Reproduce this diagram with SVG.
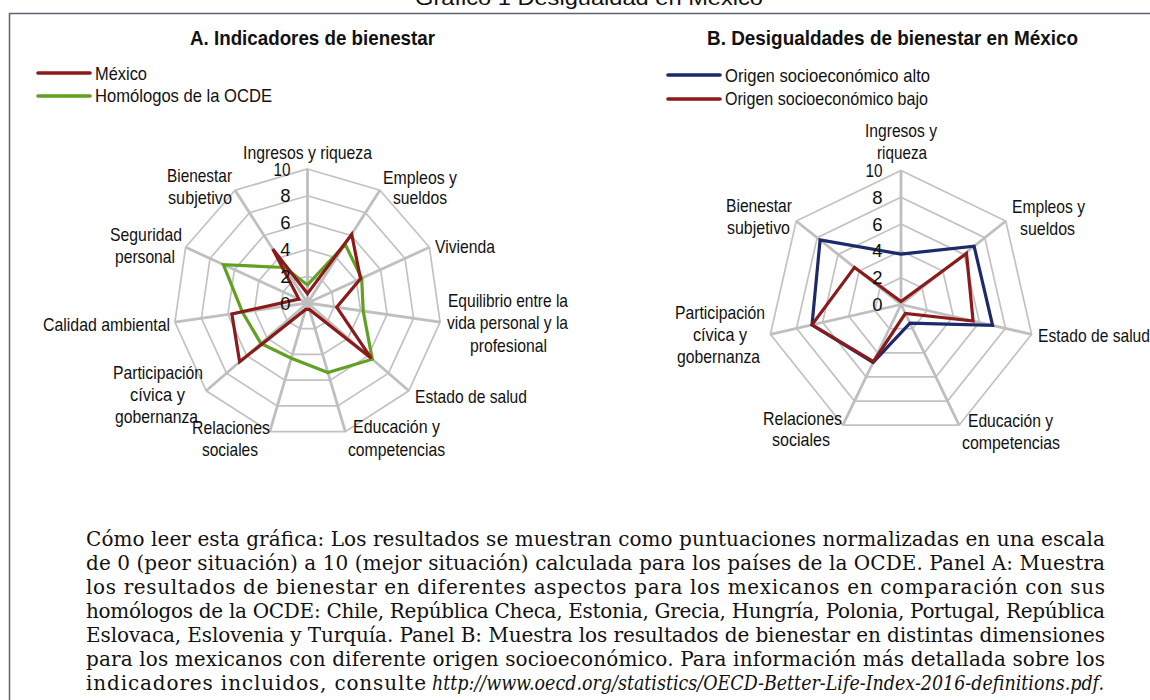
<svg xmlns="http://www.w3.org/2000/svg" width="1150" height="700" viewBox="0 0 1150 700">
<style>
.t{font-family:"Liberation Sans",Arial,sans-serif;font-size:18.5px;fill:#111}
.m{text-anchor:middle}
.e{text-anchor:end}
.h{font-family:"Liberation Sans",Arial,sans-serif;font-size:21px;font-weight:bold;fill:#111;text-anchor:middle}
.p{font-family:"DejaVu Serif","Liberation Serif",serif;font-size:20px;fill:#111}
.ring{fill:none;stroke:#c2c2c2;stroke-width:1.7}
.spoke{fill:none;stroke:#bfbfbf;stroke-width:2.8}
.ser{fill:none;stroke-width:3.2;stroke-linejoin:miter}
.red{stroke:#8b1a1a}
.grn{stroke:#62a024}
.blu{stroke:#1c2a6a}
.leg{stroke-width:3.6;stroke-linecap:round}
</style>
<rect width="1150" height="700" fill="#ffffff"/>
<text x="589" y="5" class="t m" style="font-size:20px" textLength="348" lengthAdjust="spacingAndGlyphs">Gráfico 1 Desigualdad en México</text>
<rect x="9.5" y="13.5" width="1200" height="720" fill="none" stroke="#5c6270" stroke-width="1.5"/>

<g id="panelA">
  <text x="312.5" y="45" class="h" textLength="245" lengthAdjust="spacingAndGlyphs">A. Indicadores de bienestar</text>
  <g id="legendA">
    <line x1="38" y1="73" x2="90" y2="73" class="leg red"/>
    <text x="95" y="80" class="t" textLength="52" lengthAdjust="spacingAndGlyphs">México</text>
    <line x1="38" y1="96" x2="90" y2="96" class="leg grn"/>
    <text x="95" y="101.5" class="t" textLength="177" lengthAdjust="spacingAndGlyphs">Homólogos de la OCDE</text>
  </g>
  <g id="gridA">
    <polygon class="ring" points="307.5,276.2 322.0,280.5 331.9,291.9 334.0,306.8 327.8,320.6 315.1,328.7 300.0,328.7 287.3,320.6 281.0,306.8 283.1,291.9 293.0,280.5"/>
    <polygon class="ring" points="307.5,249.4 336.5,257.9 356.3,280.7 360.6,310.6 348.0,338.1 322.6,354.4 292.4,354.4 267.0,338.1 254.5,310.6 258.8,280.7 278.5,257.9"/>
    <polygon class="ring" points="307.5,222.6 351.0,235.4 380.6,269.6 387.1,314.4 368.3,355.7 330.2,380.1 284.9,380.1 246.7,355.7 227.9,314.4 234.4,269.6 264.0,235.4"/>
    <polygon class="ring" points="307.5,195.8 365.5,212.8 405.0,258.5 413.6,318.3 388.5,373.2 337.7,405.9 277.3,405.9 226.5,373.2 201.4,318.3 210.0,258.5 249.5,212.8"/>
    <polygon class="ring" points="307.5,169.0 379.9,190.3 429.4,247.3 440.1,322.1 408.8,390.8 345.3,431.6 269.8,431.6 206.2,390.8 174.9,322.1 185.6,247.3 235.1,190.3"/>
    <path class="spoke" d="M307.5,303L307.5,169.0M307.5,303L379.9,190.3M307.5,303L429.4,247.3M307.5,303L440.1,322.1M307.5,303L408.8,390.8M307.5,303L345.3,431.6M307.5,303L269.8,431.6M307.5,303L206.2,390.8M307.5,303L174.9,322.1M307.5,303L185.6,247.3M307.5,303L235.1,190.3"/>
  </g>
  <g id="seriesA">
    <polygon class="ser grn" points="307.5,284.9 345.2,244.4 361.7,278.2 363.2,311.0 372.3,359.2 327.9,372.5 291.3,358.3 260.9,343.4 242.5,312.3 223.4,264.6 284.7,267.5"/>
    <polygon class="ser red" points="307.5,293.6 351.7,234.3 360.5,278.8 336.7,307.2 371.3,358.3 309.4,309.4 305.6,309.4 239.6,361.8 231.9,313.9 298.9,299.1 272.7,248.9"/>
  </g>
  <g id="scaleA">
    <text x="290.5" y="175.5" class="t e" textLength="17" lengthAdjust="spacingAndGlyphs">10</text>
    <text x="290.5" y="202.3" class="t e">8</text>
    <text x="290.5" y="229.1" class="t e">6</text>
    <text x="290.5" y="255.9" class="t e">4</text>
    <text x="290.5" y="282.7" class="t e">2</text>
    <text x="290.5" y="309.5" class="t e">0</text>
  </g>
  <g id="labelsA">
    <text x="307.5" y="159" class="t m" textLength="129" lengthAdjust="spacingAndGlyphs">Ingresos y riqueza</text>
    <text x="420" y="183.5" class="t m" textLength="74" lengthAdjust="spacingAndGlyphs">Empleos y</text>
    <text x="420" y="204" class="t m" textLength="54" lengthAdjust="spacingAndGlyphs">sueldos</text>
    <text x="465" y="253" class="t m" textLength="60" lengthAdjust="spacingAndGlyphs">Vivienda</text>
    <text x="508" y="307" class="t m" textLength="120" lengthAdjust="spacingAndGlyphs">Equilibrio entre la</text>
    <text x="507.5" y="329" class="t m" textLength="121" lengthAdjust="spacingAndGlyphs">vida personal y la</text>
    <text x="508.5" y="351.5" class="t m" textLength="77" lengthAdjust="spacingAndGlyphs">profesional</text>
    <text x="415" y="402.5" class="t" textLength="112" lengthAdjust="spacingAndGlyphs">Estado de salud</text>
    <text x="396.5" y="432.5" class="t m" textLength="87" lengthAdjust="spacingAndGlyphs">Educación y</text>
    <text x="396.5" y="455.5" class="t m" textLength="97" lengthAdjust="spacingAndGlyphs">competencias</text>
    <text x="231" y="433.5" class="t m" textLength="78" lengthAdjust="spacingAndGlyphs">Relaciones</text>
    <text x="230" y="455.5" class="t m" textLength="56" lengthAdjust="spacingAndGlyphs">sociales</text>
    <text x="158" y="378.5" class="t m" textLength="90" lengthAdjust="spacingAndGlyphs">Participación</text>
    <text x="157.5" y="400.5" class="t m" textLength="55" lengthAdjust="spacingAndGlyphs">cívica y</text>
    <text x="156.5" y="422.5" class="t m" textLength="83" lengthAdjust="spacingAndGlyphs">gobernanza</text>
    <text x="170" y="330.5" class="t e" textLength="127" lengthAdjust="spacingAndGlyphs">Calidad ambiental</text>
    <text x="146" y="241" class="t m" textLength="72" lengthAdjust="spacingAndGlyphs">Seguridad</text>
    <text x="145" y="263" class="t m" textLength="60" lengthAdjust="spacingAndGlyphs">personal</text>
    <text x="199.5" y="182" class="t m" textLength="65" lengthAdjust="spacingAndGlyphs">Bienestar</text>
    <text x="200" y="204" class="t m" textLength="64" lengthAdjust="spacingAndGlyphs">subjetivo</text>
  </g>
</g>

<g id="panelB">
  <text x="892.5" y="45" class="h" textLength="371" lengthAdjust="spacingAndGlyphs">B. Desigualdades de bienestar en México</text>
  <g id="legendB">
    <line x1="668" y1="75" x2="720" y2="75" class="leg blu"/>
    <text x="725" y="81.5" class="t" textLength="205" lengthAdjust="spacingAndGlyphs">Origen socioeconómico alto</text>
    <line x1="668" y1="99" x2="720" y2="99" class="leg red"/>
    <text x="725" y="105" class="t" textLength="203" lengthAdjust="spacingAndGlyphs">Origen socioeconómico bajo</text>
  </g>
  <g id="gridB">
    <polygon class="ring" points="901,277.7 922.0,287.8 927.1,310.5 912.6,328.7 889.4,328.7 874.9,310.5 880.0,287.8"/>
    <polygon class="ring" points="901,250.9 942.9,271.1 953.3,316.4 924.3,352.8 877.7,352.8 848.8,316.4 859.1,271.1"/>
    <polygon class="ring" points="901,224.1 963.9,254.4 979.4,322.4 935.9,376.9 866.1,376.9 822.6,322.4 838.1,254.4"/>
    <polygon class="ring" points="901,197.3 984.8,237.7 1005.5,328.4 947.5,401.1 854.5,401.1 796.5,328.4 817.2,237.7"/>
    <polygon class="ring" points="901,170.5 1005.8,221.0 1031.6,334.3 959.1,425.2 842.9,425.2 770.4,334.3 796.2,221.0"/>
    <path class="spoke" d="M901,304.5L901,170.5M901,304.5L1005.8,221.0M901,304.5L1031.6,334.3M901,304.5L959.1,425.2M901,304.5L842.9,425.2M901,304.5L770.4,334.3M901,304.5L796.2,221.0"/>
  </g>
  <g id="seriesB">
    <polygon class="ser blu" points="901,254.2 974.1,246.2 992.6,325.4 910.0,323.2 873.1,362.4 812.0,324.8 820.1,240.0"/>
    <polygon class="ser red" points="901,301.5 966.5,253.5 973.1,321.0 905.3,313.5 873.5,361.5 812.0,324.8 854.5,267.4"/>
  </g>
  <g id="scaleB">
    <text x="882.5" y="177" class="t e" textLength="17" lengthAdjust="spacingAndGlyphs">10</text>
    <text x="882.5" y="203.8" class="t e">8</text>
    <text x="882.5" y="230.6" class="t e">6</text>
    <text x="882.5" y="257.4" class="t e">4</text>
    <text x="882.5" y="284.2" class="t e">2</text>
    <text x="882.5" y="311" class="t e">0</text>
  </g>
  <g id="labelsB">
    <text x="901" y="137" class="t m" textLength="72" lengthAdjust="spacingAndGlyphs">Ingresos y</text>
    <text x="902" y="158.5" class="t m" textLength="50" lengthAdjust="spacingAndGlyphs">riqueza</text>
    <text x="1048.5" y="213" class="t m" textLength="73" lengthAdjust="spacingAndGlyphs">Empleos y</text>
    <text x="1047.5" y="234.5" class="t m" textLength="55" lengthAdjust="spacingAndGlyphs">sueldos</text>
    <text x="1038" y="341.5" class="t" textLength="112" lengthAdjust="spacingAndGlyphs">Estado de salud</text>
    <text x="1010.5" y="427" class="t m" textLength="85" lengthAdjust="spacingAndGlyphs">Educación y</text>
    <text x="1011" y="448.5" class="t m" textLength="98" lengthAdjust="spacingAndGlyphs">competencias</text>
    <text x="802.5" y="424.5" class="t m" textLength="79" lengthAdjust="spacingAndGlyphs">Relaciones</text>
    <text x="801" y="446" class="t m" textLength="58" lengthAdjust="spacingAndGlyphs">sociales</text>
    <text x="720" y="318.5" class="t m" textLength="90" lengthAdjust="spacingAndGlyphs">Participación</text>
    <text x="720" y="340.5" class="t m" textLength="54" lengthAdjust="spacingAndGlyphs">cívica y</text>
    <text x="718.5" y="362.5" class="t m" textLength="83" lengthAdjust="spacingAndGlyphs">gobernanza</text>
    <text x="759" y="212" class="t m" textLength="66" lengthAdjust="spacingAndGlyphs">Bienestar</text>
    <text x="758.5" y="233.5" class="t m" textLength="63" lengthAdjust="spacingAndGlyphs">subjetivo</text>
  </g>
</g>

<g id="nota">
  <text x="86" y="546" class="p" textLength="1019" lengthAdjust="spacing">Cómo leer esta gráfica: Los resultados se muestran como puntuaciones normalizadas en una escala</text>
  <text x="86" y="570" class="p" textLength="1019" lengthAdjust="spacing">de 0 (peor situación) a 10 (mejor situación) calculada para los países de la OCDE. Panel A: Muestra</text>
  <text x="86" y="594" class="p" textLength="1019" lengthAdjust="spacing">los resultados de bienestar en diferentes aspectos para los mexicanos en comparación con sus</text>
  <text x="86" y="618" class="p" textLength="1019" lengthAdjust="spacing">homólogos de la OCDE: Chile, República Checa, Estonia, Grecia, Hungría, Polonia, Portugal, República</text>
  <text x="86" y="642" class="p" textLength="1019" lengthAdjust="spacing">Eslovaca, Eslovenia y Turquía. Panel B: Muestra los resultados de bienestar en distintas dimensiones</text>
  <text x="86" y="666" class="p" textLength="1019" lengthAdjust="spacing">para los mexicanos con diferente origen socioeconómico. Para información más detallada sobre los</text>
  <text x="86" y="690" class="p" textLength="340" lengthAdjust="spacing">indicadores incluidos, consulte</text>
  <text x="432" y="690" class="p" style="font-style:italic" textLength="672" lengthAdjust="spacingAndGlyphs">http://www.oecd.org/statistics/OECD-Better-Life-Index-2016-definitions.pdf.</text>
</g>
</svg>
